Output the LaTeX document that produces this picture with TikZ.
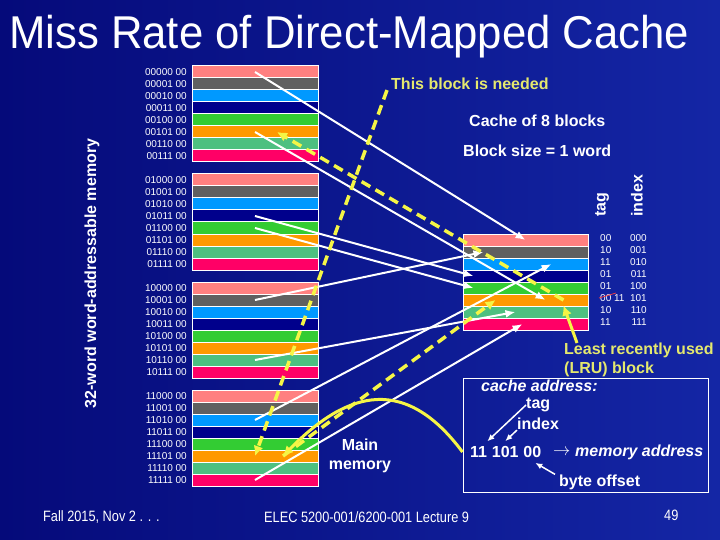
\documentclass[tikz,border=0pt]{standalone}
\usepackage{fontspec}
\setmainfont{Liberation Sans}
\newfontfamily\titlefont[FakeStretch=0.95]{Liberation Sans}
\newfontfamily\footfont[FakeStretch=0.85]{Liberation Sans}
\usetikzlibrary{arrows.meta,positioning}

\definecolor{slidedark}{RGB}{5,10,122}
\definecolor{slidelight}{RGB}{20,38,165}
\definecolor{row0}{RGB}{255,128,128}
\definecolor{row1}{RGB}{96,96,96}
\definecolor{row2}{RGB}{0,153,255}
\definecolor{row3}{RGB}{0,0,140}
\definecolor{row4}{RGB}{51,204,51}
\definecolor{row5}{RGB}{255,153,0}
\definecolor{row6}{RGB}{77,192,128}
\definecolor{row7}{RGB}{255,0,102}
\definecolor{hiline}{RGB}{245,245,70}
\definecolor{hitext}{RGB}{228,232,110}

\tikzset{
  memrow/.style={draw=white, line width=1pt, minimum width=126pt, minimum height=12pt, inner sep=0pt},
  memaddr/.style={text=white, inner sep=0pt, font=\fontsize{10}{12}\selectfont},
  lbl/.style={text=white, inner sep=0pt, font=\bfseries\fontsize{16}{19}\selectfont},
  hilbl/.style={lbl, text=hitext},
  foot/.style={text=white, inner sep=0pt, font=\footfont\fontsize{15}{18}\selectfont},
  wirearrow/.style={draw=white, line width=2pt, -{Latex[length=10pt,width=8pt]}},
  boxarrow/.style={draw=white, line width=1.5pt, -{Latex[length=7pt,width=6pt]}},
  missarrow/.style={draw=hiline, line width=3.5pt, dash pattern=on 10pt off 6pt, -{Latex[length=10pt,width=10pt]}},
  lruarrow/.style={draw=hiline, line width=3pt, -{Latex[length=10pt,width=10pt]}},
  addrpart/.style={lbl, inner xsep=0pt, inner ysep=5pt}
}

\begin{document}
\begin{tikzpicture}[x=1pt,y=-1pt]
\useasboundingbox (0,0) rectangle (720,540);
\shade[left color=slidedark, right color=slidelight] (0,0) rectangle (720,540);

\node[anchor=base west, inner sep=0pt, text=white, font=\titlefont\fontsize{46}{50}\selectfont] (title) at (9,49) {Miss Rate of Direct-Mapped Cache};

\foreach \n/\addr in {0/00000 00,1/00001 00,2/00010 00,3/00011 00,4/00100 00,5/00101 00,6/00110 00,7/00111 00,
  8/01000 00,9/01001 00,10/01010 00,11/01011 00,12/01100 00,13/01101 00,14/01110 00,15/01111 00,
  16/10000 00,17/10001 00,18/10010 00,19/10011 00,20/10100 00,21/10101 00,22/10110 00,23/10111 00,
  24/11000 00,25/11001 00,26/11010 00,27/11011 00,28/11100 00,29/11101 00,30/11110 00,31/11111 00}{
  \pgfmathtruncatemacro\r{mod(\n,8)}
  \pgfmathtruncatemacro\g{int(\n/8)}
  \pgfmathsetmacro\yy{72+108*\g+12*\r}
  \node[memrow, fill=row\r] (mem\n) at (255,\yy) {};
  \node[memaddr, anchor=east] (lab\n) at (187,\yy) {\addr};
}

\foreach \i/\t/\x in {0/00/000,1/10/001,2/11/010,3/01/011,4/01/100,5/00 11/101,6/10/110,7/11/111}{
  \node[memrow, minimum width=125pt, fill=row\i] (cache\i) at (525.5,{240+12*\i}) {};
  \node[memaddr, anchor=west] (tag\i) at (600,{238+12*\i}) {\t};
  \node[memaddr, anchor=east] (idx\i) at (647,{238+12*\i}) {\x};
}
\draw[red!75!white, line width=0.7pt] ([xshift=-1pt]tag5.west) -- ++(17,-5);

\node[lbl, rotate=90] (memcap) at (92,273.5) {32-word word-addressable memory};
\node[lbl, rotate=90, anchor=west] (tagcol) at (602,217) {tag};
\node[lbl, rotate=90, anchor=west] (idxcol) at (637,217) {index};
\node[hilbl, anchor=west] (need) at (391,84) {This block is needed};
\node[lbl, anchor=west] (size8) at (469,121) {Cache of 8 blocks};
\node[lbl, anchor=west] (bsize) at (463,151) {Block size = 1 word};
\node[lbl, align=center] (mainmem) at (360,456) {Main\\memory};
\node[hilbl, anchor=north west, align=left] (lru) at (564,343) {Least recently used\\(LRU) block};

\draw[wirearrow] (mem0.center) -- (cache0.center);
\draw[wirearrow] (mem5.center) -- ([xshift=20pt]cache5.center);
\draw[wirearrow] (mem11.center) -- ([xshift=-52pt]cache3.center);
\draw[wirearrow] (mem12.center) -- ([xshift=-52pt]cache4.center);
\draw[wirearrow] (mem17.center) -- ([xshift=-42pt]cache1.center);
\draw[wirearrow] (mem22.center) -- ([xshift=-10pt]cache6.center);
\draw[wirearrow] (mem26.center) -- ([xshift=26pt]cache2.center);
\draw[wirearrow] (mem31.center) -- ([xshift=-3pt]cache7.center);

\node[draw=white, line width=1pt, minimum width=245pt, minimum height=114pt, inner sep=0pt] (box) at (585.5,435.5) {};
\node[lbl, anchor=west, font=\bfseries\itshape\fontsize{16}{19}\selectfont] (cad) at (481,386) {cache address:};
\node[lbl, anchor=west] (tagl) at (526,405) {tag};
\node[lbl, anchor=west] (idxl) at (517,424) {index};
\node[addrpart, anchor=west] (atag) at (470,452) {11};
\node[addrpart, right=4.4pt of atag] (aidx) {101};
\node[addrpart, right=4.4pt of aidx] (aoff) {00};
\node[lbl, anchor=west] (toarr) at (553,452) {$\rightarrow$};
\node[lbl, anchor=west, font=\bfseries\itshape\fontsize{16}{19}\selectfont] (maddr) at (575,452) {memory address};
\node[lbl, anchor=west] (offl) at (559,482) {byte offset};
\draw[boxarrow] (tagl.west) -- (atag.north east);
\draw[boxarrow] (idxl.south west) -- (aidx.north);
\draw[boxarrow] ([xshift=-4pt]offl.north west) -- ([xshift=3pt]aoff.south);

\draw[missarrow] ([xshift=38pt]cache5.center) -- ([xshift=22pt]mem5.center);
\draw[missarrow] ([xshift=-4pt]need.south west) -- (mem29.center);
\draw[missarrow] ([xshift=28pt]mem29.center) -- ([xshift=-30pt]cache5.center);
\draw[lruarrow] (box.west |- atag.west) .. controls (400,368) and (340,398) .. ([xshift=28pt]mem29.center);
\draw[lruarrow] ([xshift=13pt]lru.north west) -- ([xshift=38pt]cache6.north);

\node[foot, anchor=west] (date) at (43,517) {Fall 2015, Nov 2 . . .};
\node[foot, anchor=west] (course) at (264,517) {ELEC 5200-001/6200-001 Lecture 9};
\node[foot, anchor=west] (page) at (664,515) {49};
\end{tikzpicture}
\end{document}
